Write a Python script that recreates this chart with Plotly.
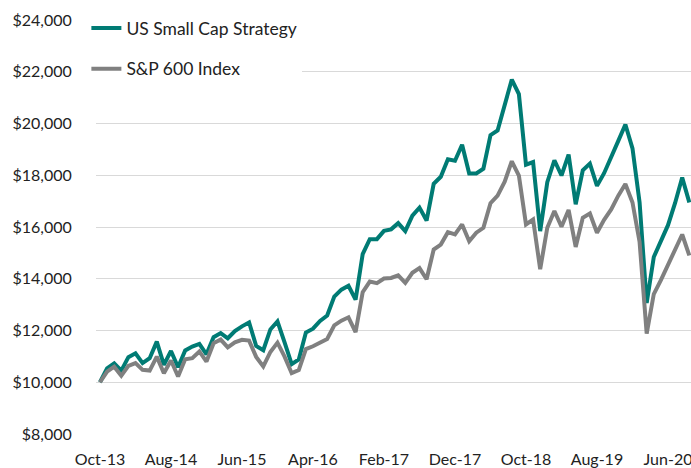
import plotly.graph_objects as go
import pandas as pd

months = [d.strftime("%b-%y") for d in pd.date_range("2013-10-01", periods=84, freq="MS")]

strategy = [10000, 10540, 10730, 10450, 10970, 11120, 10740, 10930, 11570, 10670,
            11210, 10580, 11230, 11380, 11480, 11080, 11740, 11900, 11700, 11980,
            12160, 12310, 11400, 11240, 12040, 12350, 11540, 10700, 10880, 11920,
            12070, 12370, 12580, 13310, 13580, 13730, 13190, 14950, 15530, 15530,
            15850, 15910, 16150, 15840, 16440, 16750, 16250, 17670, 17940, 18620,
            18560, 19180, 18070, 18070, 18250, 19550, 19730, 20700, 21700, 21140,
            18410, 18510, 15840, 17730, 18580, 17990, 18800, 16880, 18190, 18450,
            17590, 18080, 18670, 19330, 19960, 19040, 16950, 13060, 14840, 15450,
            16070, 16930, 17910, 16950]

sp600 = [10000, 10410, 10600, 10250, 10630, 10740, 10480, 10450, 10990, 10350,
         10840, 10220, 10890, 10930, 11190, 10800, 11510, 11650, 11350, 11540,
         11640, 11610, 10980, 10610, 11170, 11530, 10990, 10350, 10470, 11280,
         11390, 11550, 11670, 12200, 12380, 12510, 11940, 13480, 13890, 13830,
         14010, 14030, 14130, 13840, 14230, 14410, 13980, 15130, 15320, 15800,
         15710, 16100, 15450, 15780, 15970, 16920, 17210, 17750, 18540, 17990,
         16100, 16290, 14370, 15970, 16620, 16010, 16660, 15230, 16360, 16520,
         15780, 16280, 16680, 17210, 17660, 16950, 15420, 11880, 13410, 13950,
         14540, 15110, 15710, 14900]

tick_labels = ["Oct-13", "Aug-14", "Jun-15", "Apr-16", "Feb-17", "Dec-17", "Oct-18", "Aug-19", "Jun-20"]
y_ticks = [8000, 10000, 12000, 14000, 16000, 18000, 20000, 22000, 24000]

TEAL = "#007B74"
GRAY = "#808080"
FONT = "Lato"

x_idx = list(range(len(months)))

fig = go.Figure()
fig.add_trace(go.Scatter(x=x_idx, y=strategy, mode="lines", name="US Small Cap Strategy",
                         line=dict(color=TEAL, width=4), legendgroup="a"))
fig.add_trace(go.Scatter(x=x_idx, y=sp600, mode="lines", name="S&P 600 Index",
                         line=dict(color=GRAY, width=4), legendgroup="b"))

fig.update_layout(
    width=691, height=468,
    margin=dict(l=96, r=0, t=20, b=34, autoexpand=False),
    paper_bgcolor="white", plot_bgcolor="white",
    font=dict(family=FONT, color="#222222", size=16),
    showlegend=True,
    legend=dict(xref="container", yref="container", x=0.125, y=1 - 10 / 468,
                xanchor="left", yanchor="top", bgcolor="white",
                font=dict(family=FONT, size=17.5, color="#222222"),
                tracegroupgap=15, traceorder="grouped"),
    xaxis=dict(range=[-0.56, 83.24], tickmode="array",
               tickvals=[months.index(t) for t in tick_labels], ticktext=tick_labels,
               showgrid=False, zeroline=False, showline=False, tickangle=0,
               ticks="outside", ticklen=11, tickcolor="rgba(0,0,0,0)",
               ticklabeloverflow="allow",
               tickfont=dict(family=FONT, size=16, color="#222222"), automargin=False),
    yaxis=dict(range=[8000, 24000], tickmode="array", tickvals=y_ticks,
               ticktext=["${:,}".format(v) for v in y_ticks],
               showgrid=True, gridcolor="#D9D9D9", gridwidth=1.3, zeroline=False, showline=False,
               ticks="outside", ticklen=20, tickcolor="rgba(0,0,0,0)",
               tickfont=dict(family=FONT, size=16, color="#222222"), automargin=False),
)

fig.write_html("out.html")
